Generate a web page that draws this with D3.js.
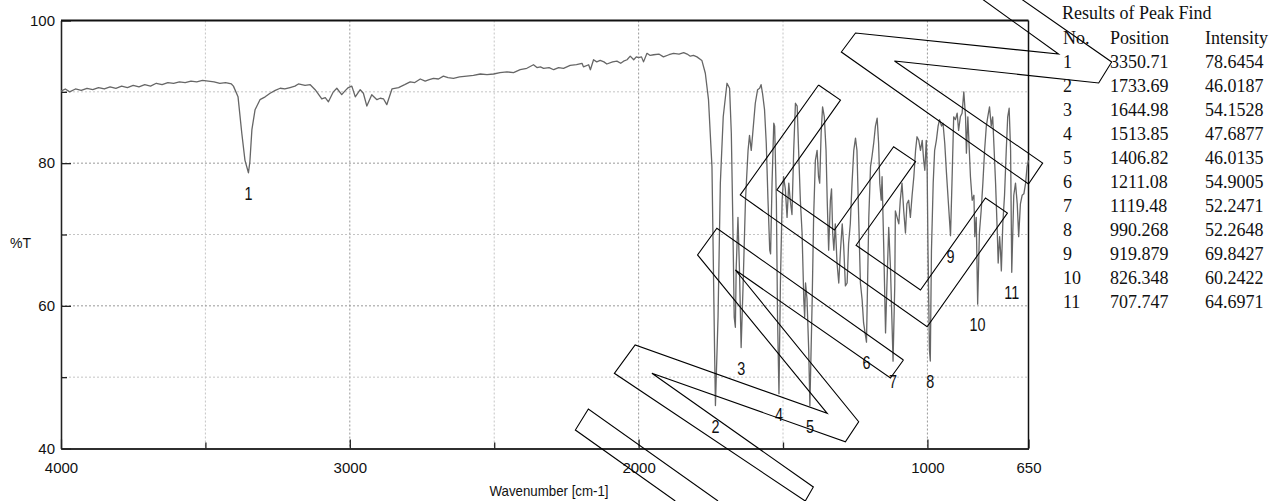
<!DOCTYPE html>
<html>
<head>
<meta charset="utf-8">
<script src="https://cdn.jsdelivr.net/npm/d3@7"></script>
<style>
  body { margin: 0; background: #fff; }
  svg { display: block; }
</style>
</head>
<body>
<script>
// IR spectrum (%T vs wavenumber)
const spectrum = [
  [4000,90.1],[3985,90.4],[3970,90.0],[3950,90.4],[3930,90.2],[3910,90.5],[3890,90.3],[3870,90.6],
  [3850,90.4],[3830,90.7],[3810,90.5],[3790,90.8],[3770,90.6],[3750,90.9],[3730,90.7],[3710,91.0],
  [3690,90.8],[3670,91.2],[3650,91.0],[3630,91.3],[3610,91.2],[3590,91.4],[3570,91.3],[3550,91.5],
  [3530,91.4],[3510,91.6],[3490,91.5],[3470,91.4],[3450,91.2],[3430,91.3],[3410,91.1],[3403,90.8],
  [3387,89.3],[3374,84.2],[3363,80.4],[3351,78.65],[3346,80.2],[3339,84.7],[3328,87.5],[3311,88.9],
  [3293,89.3],[3276,89.8],[3258,90.2],[3241,90.5],[3225,90.4],[3207,90.6],[3190,90.8],[3178,91.1],
  [3155,90.9],[3137,91.0],[3120,90.3],[3097,89.0],[3085,89.2],[3074,88.6],[3057,90.0],[3045,90.5],
  [3028,89.6],[3015,90.2],[3005,90.6],[2993,90.8],[2981,89.3],[2964,90.3],[2953,89.8],[2941,88.0],
  [2924,89.6],[2906,88.9],[2895,89.1],[2883,89.0],[2872,88.2],[2854,90.4],[2831,90.6],[2826,90.7],
  [2810,91.0],[2791,91.4],[2775,91.3],[2756,91.8],[2739,91.5],[2725,91.7],[2710,91.9],[2693,91.8],
  [2676,92.2],[2660,92.0],[2641,91.9],[2620,92.1],[2595,92.2],[2572,92.3],[2548,92.5],[2525,92.4],
  [2502,92.5],[2480,92.7],[2456,92.8],[2433,92.7],[2410,93.1],[2387,93.3],[2364,93.8],[2352,93.4],
  [2340,93.5],[2329,93.3],[2310,93.4],[2294,93.1],[2277,93.4],[2260,93.3],[2237,93.7],[2215,93.8],
  [2196,94.0],[2191,93.5],[2173,93.8],[2167,93.1],[2156,94.5],[2145,94.2],[2133,94.4],[2120,94.2],
  [2110,93.9],[2090,94.2],[2075,94.3],[2062,94.0],[2052,94.3],[2040,94.5],[2029,95.0],[2017,94.5],
  [2008,94.9],[2000,94.8],[1990,94.9],[1983,94.2],[1971,95.4],[1960,95.1],[1948,95.2],[1930,95.3],
  [1914,94.9],[1895,95.2],[1879,95.4],[1860,95.3],[1844,95.5],[1832,95.3],[1821,95.0],[1810,95.1],
  [1798,94.9],[1781,94.4],[1769,92.6],[1758,88.9],[1746,79.5],[1737,53.8],[1734,46.02],[1725,58.4],
  [1717,77.2],[1707,86.5],[1694,91.2],[1685,90.5],[1679,84.2],[1674,72.4],[1669,58.4],[1665,57.0],
  [1662,65.4],[1656,72.4],[1651,65.4],[1645,54.15],[1638,63.2],[1630,74.8],[1621,81.8],[1616,83.9],
  [1610,81.8],[1605,84.1],[1596,88.4],[1588,90.3],[1581,90.5],[1576,91.0],[1571,89.8],[1564,87.5],
  [1558,82.8],[1552,74.8],[1546,67.8],[1543,67.3],[1538,77.2],[1532,85.6],[1529,85.2],[1523,74.8],
  [1519,58.4],[1514,47.69],[1509,63.2],[1503,74.8],[1498,78.1],[1492,76.4],[1486,72.4],[1480,77.2],
  [1475,74.8],[1469,72.8],[1463,81.8],[1457,88.4],[1451,88.0],[1446,81.8],[1440,74.8],[1434,70.2],
  [1428,60.8],[1425,58.4],[1422,63.2],[1417,61.0],[1411,53.8],[1407,46.01],[1399,60.8],[1394,72.4],
  [1388,80.4],[1382,81.8],[1377,78.1],[1373,77.2],[1368,84.2],[1363,87.9],[1357,86.5],[1351,81.8],
  [1347,74.8],[1342,67.8],[1336,74.8],[1332,76.4],[1328,70.2],[1324,67.8],[1319,71.5],[1313,66.0],
  [1307,63.2],[1301,67.8],[1295,71.5],[1290,68.5],[1284,62.8],[1278,63.2],[1273,68.7],[1267,71.5],
  [1261,77.2],[1255,81.8],[1249,83.5],[1244,81.8],[1238,72.4],[1232,63.2],[1226,60.8],[1221,57.6],
  [1211,54.9],[1203,72.4],[1197,79.5],[1192,80.9],[1186,82.8],[1180,85.2],[1174,86.3],[1169,82.8],
  [1165,77.2],[1160,74.8],[1157,78.1],[1151,67.8],[1145,56.2],[1140,63.2],[1134,71.0],[1128,65.4],
  [1119,52.25],[1113,63.0],[1111,73.3],[1105,72.4],[1099,71.5],[1094,74.8],[1088,77.2],[1082,73.3],
  [1076,70.2],[1071,74.3],[1065,74.8],[1059,72.4],[1053,75.5],[1047,78.1],[1041,81.8],[1036,83.7],
  [1030,83.2],[1024,81.8],[1018,83.2],[1013,80.4],[1009,79.0],[1004,83.2],[1001,79.5],[998,67.8],
  [993,53.8],[990,52.26],[986,67.8],[980,77.2],[975,81.8],[969,83.2],[963,85.2],[958,86.1],
  [951,85.2],[946,85.6],[940,82.8],[934,78.6],[928,74.8],[920,69.84],[915,77.2],[909,86.5],
  [903,86.1],[897,87.0],[892,84.6],[886,86.5],[880,87.0],[874,90.0],[868,86.5],[865,81.4],
  [860,86.5],[856,82.8],[851,78.1],[845,74.8],[839,75.5],[836,69.7],[831,72.4],[826,60.24],
  [820,70.2],[814,73.3],[808,77.2],[802,81.8],[796,85.2],[791,86.5],[785,87.9],[779,85.2],
  [774,86.5],[770,82.8],[764,77.2],[758,70.2],[755,66.0],[750,69.7],[747,67.8],[744,64.9],
  [739,71.5],[733,75.5],[727,81.8],[722,86.5],[717,87.7],[712,81.8],[708,64.7],[701,75.5],
  [695,77.2],[689,74.3],[684,69.7],[678,74.3],[672,75.5],[666,75.7],[660,77.2],[655,79.5],[650,80.4]
]

// Results of Peak Find
const peakNo = [1, 2, 3, 4, 5, 6, 7, 8, 9, 10, 11]
const peakPos = [3350.71, 1733.69, 1644.98, 1513.85, 1406.82, 1211.08, 1119.48, 990.268, 919.879, 826.348, 707.747]
const peakInt = [78.6454, 46.0187, 54.1528, 47.6877, 46.0135, 54.9005, 52.2471, 52.2648, 69.8427, 60.2422, 64.6971]

const xMajor = [4000, 3000, 2000, 1000, 650]
const xMinor = [3500, 2500, 1500]
const yMajor = [40, 60, 80, 100]
const yMinor = [50, 70, 90]

// outlined shapes drawn over the scan, in wavenumber / %T units
const outlines = [
  [[834,103.7],[546,95.3],[1249,98.25],[1298,95.58],[650,77.08],[601,80.02],[1114,94.32],
   [407,91.24],[362,94.18],[685,103.3]],
  [[1377,90.96],[1648,75.54],[1001,57.07],[723,73.01],[799,75.12],[1024,62.22],[1247,68.49],
   [1041,80.21],[1117,82.31],[1322,70.63],[1521,76.24],[1301,88.85],[1377,90.96]],
  [[1083,52.41],[1729,70.87],[1796,67.13],[1347,44.93],[2012,54.51],[2084,50.54],[1423,32.64],
   [1395,34.6],[1954,50.54],[1284,40.95],[1238,43.76],[1665,65.02],[1128,49.88],[1083,52.41]],
  [[1725,32.64],[2174,45.54],[2219,42.59],[1873,32.64]]
]

const W = 1282, H = 501
const svg = d3.select('body').append('svg')
  .attr('width', W).attr('height', H)
  .style('font-family', 'Liberation Sans, Arial, sans-serif')

const x = d3.scaleLinear().domain([4000, 650]).range([61, 1028.5])
const y = d3.scaleLinear().domain([40, 100]).range([448.5, 20.5])

// grid
const grid = svg.append('g')
grid.selectAll('.gx').data([3500, 3000, 2500, 2000, 1500, 1000]).join('line')
  .attr('x1', d => x(d)).attr('x2', d => x(d))
  .attr('y1', y(100)).attr('y2', y(40))
  .attr('stroke', d => d % 1000 === 0 ? '#999' : '#c4c4c4')
  .attr('stroke-dasharray', '2,2')
grid.selectAll('.gy').data([90, 80, 70, 60, 50]).join('line')
  .attr('x1', x(4000)).attr('x2', x(650))
  .attr('y1', d => y(d)).attr('y2', d => y(d))
  .attr('stroke', d => d % 20 === 0 ? '#999' : '#c4c4c4')
  .attr('stroke-dasharray', '2,2')

// axes, ticks inward
const styleAxis = g => {
  g.select('.domain').attr('stroke', '#222').attr('stroke-width', 1.3)
  g.selectAll('.tick line').attr('stroke', '#222').attr('stroke-width', 1.3)
  g.selectAll('.tick text').attr('fill', '#111').style('font-size', '15px')
}
svg.append('g').attr('transform', `translate(${x(4000)},0)`)
  .call(d3.axisLeft(y).tickValues(yMajor).tickSize(-10).tickPadding(6).tickSizeOuter(0))
  .call(styleAxis)
svg.append('g').attr('transform', `translate(${x(4000)},0)`)
  .call(d3.axisLeft(y).tickValues(yMinor).tickSize(-6).tickFormat('').tickSizeOuter(0))
  .call(styleAxis)
svg.append('g').attr('transform', `translate(0,${y(40)})`)
  .call(d3.axisBottom(x).tickValues(xMajor).tickSize(-9).tickPadding(14).tickSizeOuter(0)
    .tickFormat(d3.format('d')))
  .call(styleAxis)
svg.append('g').attr('transform', `translate(0,${y(40)})`)
  .call(d3.axisBottom(x).tickValues(xMinor).tickSize(-6).tickFormat('').tickSizeOuter(0))
  .call(styleAxis)

// frame top / right
svg.append('line').attr('x1', x(4000)).attr('x2', x(650)).attr('y1', y(100)).attr('y2', y(100))
  .attr('stroke', '#111').attr('stroke-width', 2)
svg.append('line').attr('x1', x(650)).attr('x2', x(650)).attr('y1', y(100)).attr('y2', y(40))
  .attr('stroke', '#111').attr('stroke-width', 1.5)

// axis titles
svg.append('text').attr('x', 10).attr('y', 248).text('%T')
  .style('font-size', '14px').attr('fill', '#111')
svg.append('text').attr('transform', 'translate(549,496) scale(0.95,1)')
  .attr('text-anchor', 'middle').text('Wavenumber [cm-1]')
  .style('font-size', '14px').attr('fill', '#111')

// spectrum
svg.append('path').datum(spectrum)
  .attr('d', d3.line().x(d => x(d[0])).y(d => y(d[1])))
  .attr('fill', 'none').attr('stroke', '#666').attr('stroke-width', 1.3)
  .attr('stroke-linejoin', 'round')

// peak numbers
svg.append('g').selectAll('text').data(peakNo).join('text')
  .attr('transform', (d, i) => `translate(${x(peakPos[i])},${y(peakInt[i]) + 27}) scale(0.8,1)`)
  .attr('text-anchor', 'middle')
  .style('font-size', '18px').attr('fill', '#111')
  .text(d => d)

// outlines
svg.append('g').selectAll('path').data(outlines).join('path')
  .attr('d', d3.line().x(d => x(d[0])).y(d => y(d[1])))
  .attr('fill', 'none').attr('stroke', '#000').attr('stroke-width', 1.1)

// peak table
const tbl = svg.append('g')
  .style('font-family', 'Liberation Serif, Times New Roman, serif')
  .style('font-size', '18px').attr('fill', '#111')
tbl.append('text').attr('x', 1062).attr('y', 19).text('Results of Peak Find')
const cols = [1063, 1110, 1205]
;['No.', 'Position', 'Intensity'].forEach((h, j) =>
  tbl.append('text').attr('x', cols[j]).attr('y', 44).text(h))
peakNo.forEach((n, i) => {
  const yy = 68 + i * 24
  tbl.append('text').attr('x', cols[0]).attr('y', yy).text(n)
  tbl.append('text').attr('x', cols[1]).attr('y', yy).text(peakPos[i])
  tbl.append('text').attr('x', cols[2]).attr('y', yy).text(peakInt[i])
})
</script>
</body>
</html>
